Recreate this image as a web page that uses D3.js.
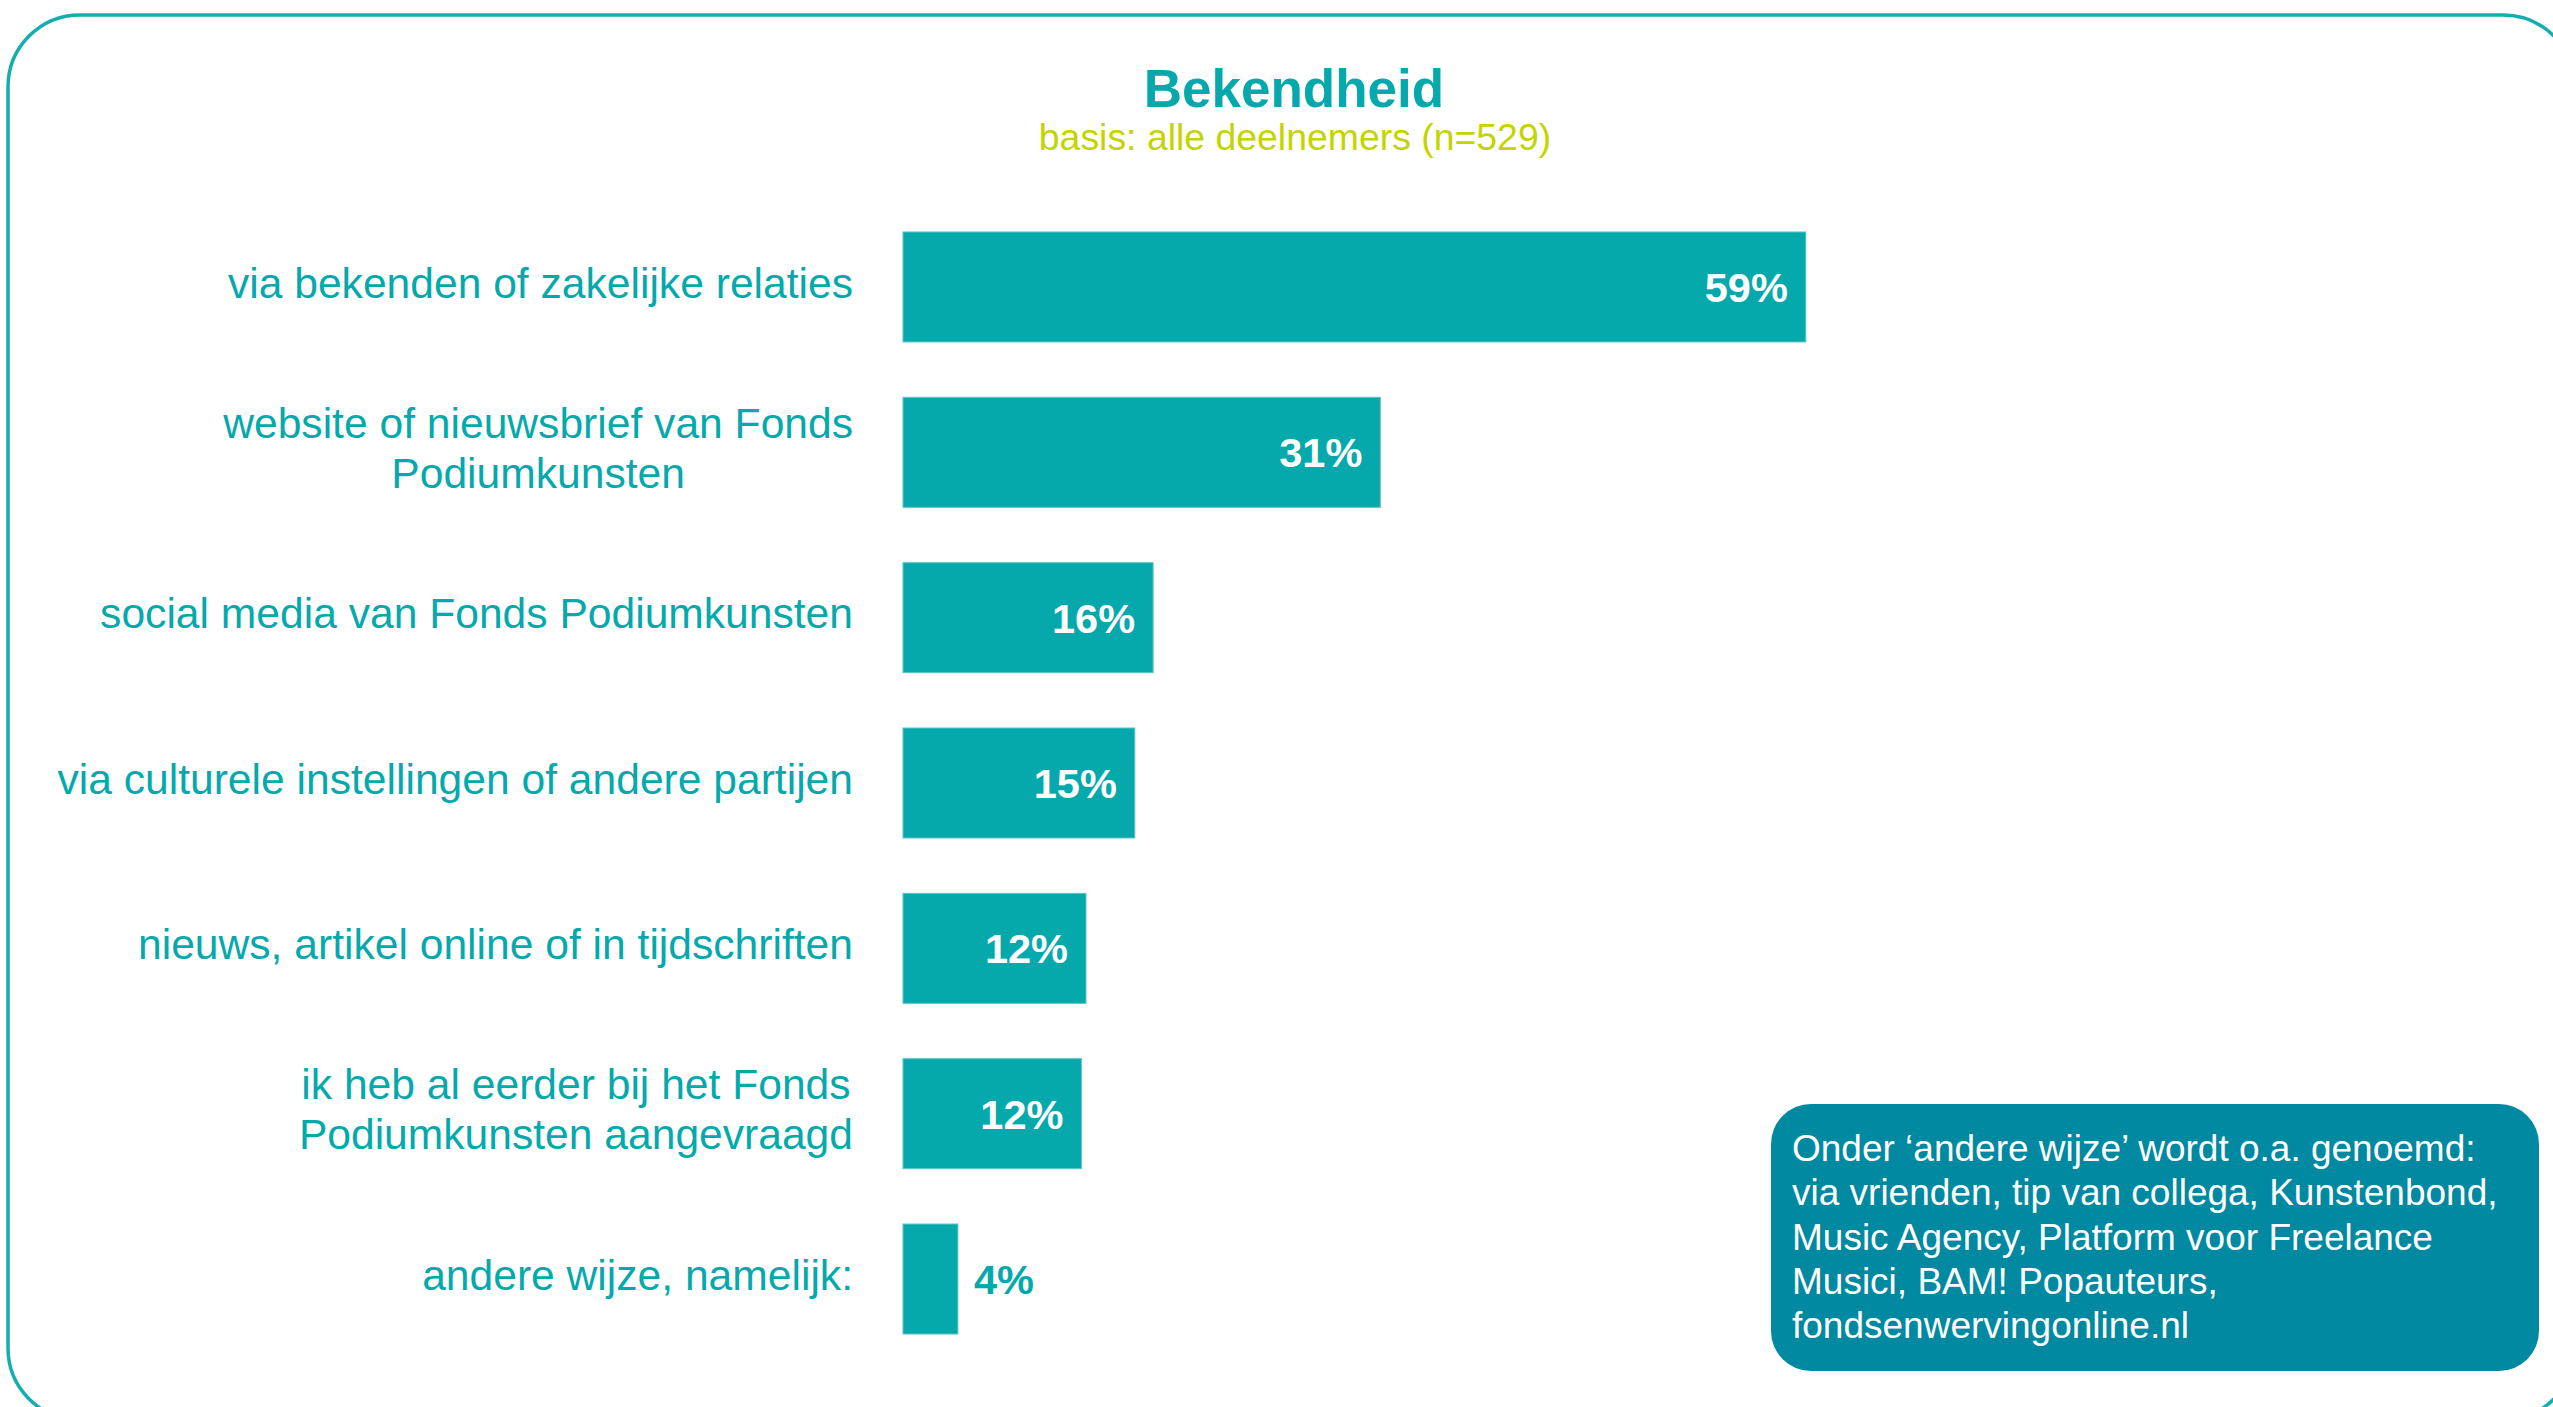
<!DOCTYPE html>
<html lang="nl">
<head>
<meta charset="utf-8">
<title>Bekendheid</title>
<script src="https://cdn.jsdelivr.net/npm/d3@7"></script>
<style>
  html, body { margin: 0; padding: 0; background: #fff; }
  svg { display: block; font-family: 'Liberation Sans', Arial, sans-serif; }
</style>
</head>
<body>
<div id="chart"></div>
<script>
// ---- data ----
const categories = [
  'via bekenden of zakelijke relaties',
  'website of nieuwsbrief van Fonds\nPodiumkunsten',
  'social media van Fonds Podiumkunsten',
  'via culturele instellingen of andere partijen',
  'nieuws, artikel online of in tijdschriften',
  'ik heb al eerder bij het Fonds\nPodiumkunsten aangevraagd',
  'andere wijze, namelijk:'
];
const values = [59.2, 31.3, 16.4, 15.2, 12.0, 11.7, 3.6];
const titleText = 'Bekendheid';
const subtitleText = 'basis: alle deelnemers (n=529)';
const noteLines = [
  'Onder \u2018andere wijze\u2019 wordt o.a. genoemd:',
  'via vrienden, tip van collega, Kunstenbond,',
  'Music Agency, Platform voor Freelance',
  'Musici, BAM! Popauteurs,',
  'fondsenwervingonline.nl'
];

(function () {
  const W = 2553, H = 1407;
  const COLORS = {
    teal: '#05a9ac',
    tealEdge: '#5cc4c6',
    frame: '#14adb0',
    lime: '#c3d500',
    note: '#0089a1',
    white: '#ffffff'
  };

  const svg = d3.select('#chart').append('svg')
    .attr('width', W).attr('height', H)
    .attr('viewBox', `0 0 ${W} ${H}`);

  // rounded frame, partly running off the right and bottom edges
  svg.append('rect')
    .attr('x', 8).attr('y', 15)
    .attr('width', 2567).attr('height', 1405)
    .attr('rx', 72).attr('ry', 72)
    .attr('fill', 'none').attr('stroke', COLORS.frame).attr('stroke-width', 3.5);

  // title + subtitle
  svg.append('text')
    .attr('x', 1294).attr('y', 107)
    .attr('text-anchor', 'middle')
    .attr('font-size', 53).attr('font-weight', 'bold')
    .attr('fill', COLORS.teal)
    .text(titleText);
  svg.append('text')
    .attr('x', 1295).attr('y', 150)
    .attr('text-anchor', 'middle')
    .attr('font-size', 37.4)
    .attr('fill', COLORS.lime)
    .text(subtitleText);

  const x = d3.scaleLinear().domain([0, 100]).range([903, 2428]);
  const y = d3.scaleBand().domain(categories).range([204.3, 1361.7])
    .paddingInner(0.3347).paddingOuter(0.1674);

  const rows = categories.map((c, i) => ({ cat: c, value: values[i] }));

  // bars
  svg.append('g').selectAll('rect')
    .data(rows).join('rect')
    .attr('x', x(0))
    .attr('y', d => y(d.cat))
    .attr('width', d => x(d.value) - x(0))
    .attr('height', y.bandwidth())
    .attr('fill', COLORS.teal)
    .attr('stroke', COLORS.tealEdge).attr('stroke-width', 1);

  // category labels (multi-line labels are centred within their own block)
  const labelRight = 853, labelSize = 42.6, lineGap = 50;
  const labelG = svg.append('g')
    .attr('font-size', labelSize).attr('fill', COLORS.teal);
  rows.forEach(d => {
    const lines = d.cat.split('\n');
    const cy = y(d.cat) + y.bandwidth() / 2;
    const t = labelG.append('text').attr('text-anchor', 'end');
    lines.forEach((ln, j) => {
      t.append('tspan')
        .attr('x', labelRight)
        .attr('y', cy + (j - (lines.length - 1) / 2) * lineGap + labelSize * 0.25)
        .text(ln);
    });
    if (lines.length > 1) {
      const spans = t.selectAll('tspan').nodes();
      const maxW = d3.max(spans, s => s.getComputedTextLength());
      t.attr('text-anchor', 'middle');
      spans.forEach(s => s.setAttribute('x', labelRight - maxW / 2));
    }
  });

  // value labels: inside the bar in white, outside in teal when it does not fit
  const valG = svg.append('g').attr('font-size', 41.5).attr('font-weight', 'bold');
  rows.forEach(d => {
    const cy = y(d.cat) + y.bandwidth() / 2;
    const barW = x(d.value) - x(0);
    const t = valG.append('text')
      .attr('y', cy + 15)
      .text(Math.round(d.value) + '%');
    const tw = t.node().getComputedTextLength();
    if (tw + 30 < barW) {
      t.attr('x', x(d.value) - 18).attr('text-anchor', 'end').attr('fill', COLORS.white);
    } else {
      t.attr('x', x(d.value) + 16).attr('text-anchor', 'start').attr('fill', COLORS.teal);
    }
  });

  // note box
  svg.append('rect')
    .attr('x', 1771).attr('y', 1104)
    .attr('width', 768).attr('height', 267)
    .attr('rx', 40).attr('ry', 40)
    .attr('fill', COLORS.note);
  const note = svg.append('text')
    .attr('font-size', 37).attr('fill', COLORS.white);
  noteLines.forEach((ln, i) => {
    note.append('tspan').attr('x', 1792).attr('y', 1161 + i * 44.3).text(ln);
  });
})();
</script>
</body>
</html>
